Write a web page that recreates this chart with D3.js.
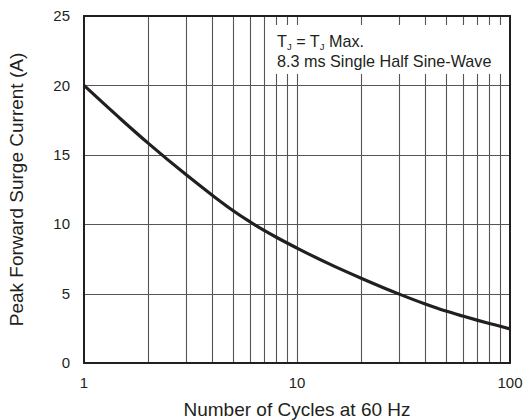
<!DOCTYPE html>
<html><head><meta charset="utf-8">
<script src="https://cdn.jsdelivr.net/npm/d3@7"></script>
<style>body{margin:0;background:#fff}svg{display:block}text{font-family:"Liberation Sans",Arial,sans-serif;fill:#231f20}</style>
</head><body>
<svg id="c" width="525" height="420"></svg>
<script>
const cycles = [1,1.5,2,3,4,5,6,8,10,15,20,30,40,50,60,70,80,90,100];
const current = [20,17.53,15.84,13.59,12.09,10.99,10.18,9.06,8.28,6.96,6.11,4.98,4.25,3.74,3.38,3.09,2.85,2.65,2.46];
const xTickLabels = [1,10,100];
const yTickLabels = [0,5,10,15,20,25];
const xGrid = [2,3,4,5,6,7,8,9,10,20,30,40,50,60,70,80,90];
const yGrid = [5,10,15,20];
const note1 = ["T","J"," = T","J"," Max."];
const note2 = "8.3 ms Single Half Sine-Wave";

const L=84,R=510,T=16,B=363;
const svg=d3.select("#c");
const x=d3.scaleLog().domain([1,100]).range([L,R]);
const y=d3.scaleLinear().domain([0,25]).range([B,T]);

// grid
svg.append("g").selectAll("line").data(xGrid).join("line")
  .attr("x1",d=>Math.round(x(d))+0.5).attr("x2",d=>Math.round(x(d))+0.5)
  .attr("y1",T).attr("y2",B).attr("stroke","#555").attr("stroke-width",1.1);
svg.append("g").selectAll("line").data(yGrid).join("line")
  .attr("y1",d=>Math.round(y(d))+0.5).attr("y2",d=>Math.round(y(d))+0.5)
  .attr("x1",L).attr("x2",R).attr("stroke","#555").attr("stroke-width",1.1);

// annotation box mask
svg.append("rect").attr("x",270).attr("y",25).attr("width",R-1-270).attr("height",49).attr("fill","#fff");
const t1=svg.append("text").attr("x",277).attr("y",47).attr("font-size",16.2);
note1.forEach((s,i)=>{
  const ts=t1.append("tspan").text(s);
  if(i%2===1){ts.attr("font-size",9.5).attr("dy",3);} else if(i>0){ts.attr("dy",-3);}
});
svg.append("text").attr("x",277).attr("y",67).attr("font-size",16.2).text(note2);

// border
svg.append("rect").attr("x",L).attr("y",T).attr("width",R-L).attr("height",B-T)
  .attr("fill","none").attr("stroke","#231f20").attr("stroke-width",2);

// curve
const line=d3.line().x((d,i)=>x(cycles[i])).y(d=>y(d)).curve(d3.curveMonotoneX);
svg.append("path").attr("d",line(current)).attr("fill","none")
  .attr("stroke","#231f20").attr("stroke-width",3.2).attr("stroke-linejoin","round");

// tick labels
svg.append("g").selectAll("text").data(yTickLabels).join("text")
  .attr("x",70).attr("y",d=>y(d)).attr("dy","0.35em").attr("text-anchor","end")
  .attr("font-size",15).text(d=>d);
svg.append("g").selectAll("text").data(xTickLabels).join("text")
  .attr("x",d=>x(d)).attr("y",388).attr("text-anchor","middle")
  .attr("font-size",15).text(d=>d);

// titles
svg.append("text").attr("x",(L+R)/2).attr("y",416).attr("text-anchor","middle")
  .attr("font-size",19).text("Number of Cycles at 60 Hz");
svg.append("text").attr("transform",`translate(23,${(T+B)/2}) rotate(-90)`)
  .attr("text-anchor","middle").attr("font-size",19).text("Peak Forward Surge Current (A)");
</script>
</body></html>
